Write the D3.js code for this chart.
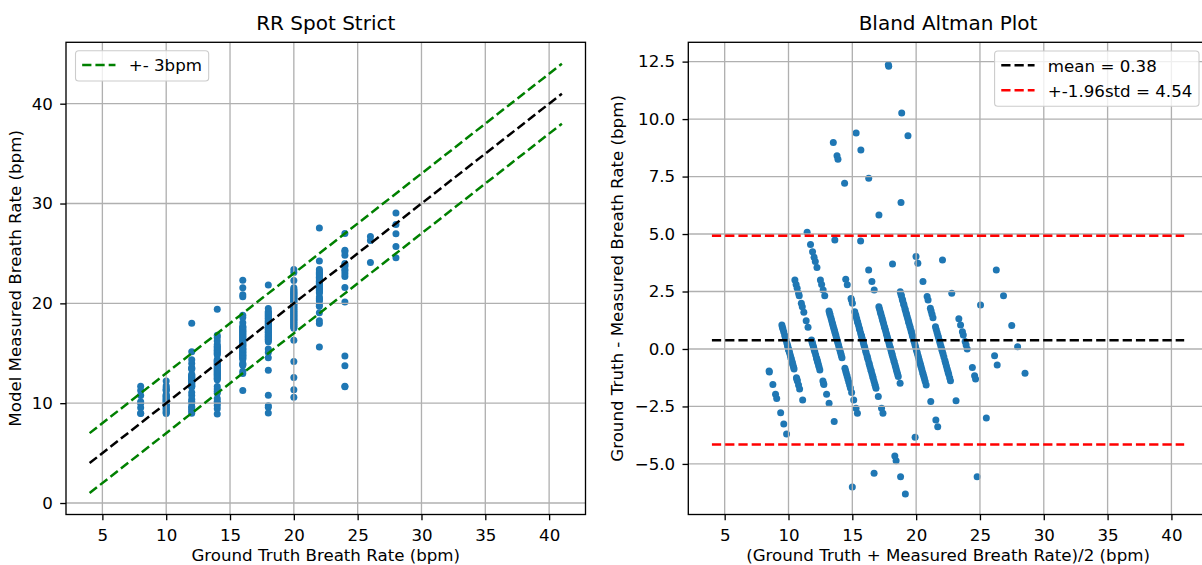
<!DOCTYPE html>
<html>
<head>
<meta charset="utf-8">
<script src="https://cdn.jsdelivr.net/npm/d3@7"></script>
<style>
  body { margin: 0; background: #fff; }
  svg { display: block; font-family: "DejaVu Sans", sans-serif; }
</style>
</head>
<body>
<svg id="chart" width="1202" height="565"></svg>
<script>
// ground truth rates (bpm) and what the model measured for each of them
const truthRates = [8, 10, 12, 14, 16, 18, 20, 22, 24, 26, 28];
const measuredRates = [
  [8.96, 9.0, 9.55, 9.97, 10.15, 10.77, 11.26, 11.7],
  [8.96, 9.05, 9.13, 9.25, 9.39, 9.5, 9.61, 9.75, 9.85, 9.9, 10.0, 10.04, 10.1, 10.19, 10.3, 10.38, 10.45,
   10.55, 10.62, 10.7, 10.8, 10.87, 11.25, 11.32, 11.39, 11.57, 11.74, 12.22],
  [9.0, 9.19, 9.36, 9.58, 9.68, 10.01, 10.16, 10.4, 10.77, 11.06, 11.61, 11.7, 11.75, 11.85, 11.94, 12.03,
   12.12, 12.25, 12.38, 12.45, 12.52, 12.6, 12.7, 12.8, 12.91, 13.39, 13.5, 13.54, 13.97, 14.36, 15.16, 18.0],
  [8.92, 9.45, 9.77, 10.01, 10.2, 10.46, 11.0, 11.19, 11.43, 11.68, 12.35, 12.45, 12.52, 12.64, 12.74, 12.85,
   12.93, 13.03, 13.13, 13.22, 13.32, 13.43, 13.54, 13.64, 13.75, 13.86, 13.97, 14.08, 14.19, 14.28, 14.38,
   14.84, 14.95, 15.06, 15.18, 15.31, 15.44, 15.57, 15.7, 15.89, 16.22, 16.58, 16.8, 19.41],
  [11.26, 12.97, 13.21, 13.8, 13.87, 14.01, 14.38, 14.5, 14.57, 14.69, 14.8, 14.86, 14.97, 15.1, 15.16, 15.29,
   15.4, 15.45, 15.56, 15.7, 15.78, 15.88, 15.95, 16.07, 16.16, 16.3, 16.37, 16.46, 16.6, 16.67, 16.78, 16.9,
   16.97, 17.1, 17.2, 17.27, 17.4, 17.52, 17.6, 17.71, 18.07, 18.58, 18.8, 20.66, 20.86, 21.56, 22.31],
  [9.02, 9.6, 9.75, 10.79, 13.3, 14.56, 15.07, 15.43, 16.16, 16.27, 16.4, 16.48, 16.6, 16.7, 16.79, 16.9,
   17.02, 17.1, 17.2, 17.32, 17.4, 17.5, 17.59, 17.7, 17.8, 17.9, 17.98, 18.1, 18.2, 18.27, 18.38, 18.5,
   18.58, 18.7, 18.8, 18.9, 19.0, 19.1, 19.2, 19.49, 21.84],
  [10.6, 11.34, 12.57, 14.17, 16.3, 17.51, 17.63, 17.7, 17.84, 17.9, 18.03, 18.1, 18.24, 18.3, 18.42, 18.5,
   18.6, 18.71, 18.8, 18.88, 19.0, 19.08, 19.2, 19.27, 19.4, 19.47, 19.6, 19.68, 19.8, 19.9, 20.02, 20.1,
   20.2, 20.31, 20.4, 20.5, 20.61, 20.7, 20.8, 20.9, 21.02, 21.1, 21.2, 21.3, 21.42, 21.57, 22.29, 23.09, 23.38],
  [15.63, 17.98, 18.27, 19.07, 19.72, 19.87, 20.23, 20.35, 20.49, 20.64, 21.03, 21.15, 21.28, 21.4, 21.5,
   21.62, 21.75, 21.88, 22.0, 22.1, 22.22, 22.35, 22.5, 22.62, 22.75, 22.88, 23.0, 23.1, 23.25, 23.38,
   24.25, 27.56],
  [11.64, 11.7, 13.74, 14.72, 20.13, 21.58, 22.69, 22.96, 23.25, 23.39, 23.68, 23.83, 24.0, 24.81, 25.16,
   25.31, 27.0],
  [24.09, 26.29, 26.7],
  [24.56, 25.69, 26.98, 27.9, 29.06]
];

const xTicks = [5, 10, 15, 20, 25, 30, 35, 40];
const spotYTicks = [0, 10, 20, 30, 40];
const baYTicks = [-5, -2.5, 0, 2.5, 5, 7.5, 10, 12.5];
const lineRange = [4, 41];   // reference lines run over this x range
const tolerance = 3;         // +- 3bpm band
const meanDiff = 0.38;       // from the legend
const limitsHalf = 4.54;     // 1.96 * std, from the legend

const blue = "#1f77b4";
const fontPx = 16.67;
const lw = 2.5;
const dash = "9.25,4";

const svg = d3.select("#chart");

const readings = truthRates.flatMap((t, i) =>
  measuredRates[i].map(m => ({ truth: t, measured: m })));

function panel(box, xDomain, yDomain, yTicks, yFormat, id) {
  const x = d3.scaleLinear().domain(xDomain).range([box.left, box.right]);
  const y = d3.scaleLinear().domain(yDomain).range([box.bottom, box.top]);
  const g = svg.append("g");

  g.append("clipPath").attr("id", id).append("rect")
    .attr("x", box.left).attr("y", box.top)
    .attr("width", box.right - box.left).attr("height", box.bottom - box.top);

  const dots = g.append("g").attr("clip-path", `url(#${id})`);

  const grid = g.append("g").attr("stroke", "#b0b0b0").attr("stroke-width", 1.33);
  grid.selectAll(".gx").data(xTicks).join("line").attr("class", "gx")
    .attr("x1", d => x(d)).attr("x2", d => x(d))
    .attr("y1", box.top).attr("y2", box.bottom);
  grid.selectAll(".gy").data(yTicks).join("line").attr("class", "gy")
    .attr("x1", box.left).attr("x2", box.right)
    .attr("y1", d => y(d)).attr("y2", d => y(d));

  const lines = g.append("g").attr("clip-path", `url(#${id})`);

  const xAxis = g.append("g")
    .attr("transform", `translate(0,${box.bottom})`)
    .call(d3.axisBottom(x).tickValues(xTicks).tickSize(5.8).tickPadding(8.9).tickFormat(d3.format("d")));
  const yAxis = g.append("g")
    .attr("transform", `translate(${box.left},0)`)
    .call(d3.axisLeft(y).tickValues(yTicks).tickSize(5.8).tickPadding(7.3).tickFormat(yFormat));
  [xAxis, yAxis].forEach(a => {
    a.attr("font-size", fontPx).attr("font-family", "DejaVu Sans, sans-serif");
    a.select(".domain").remove();
    a.selectAll(".tick line").attr("stroke", "#000").attr("stroke-width", 1.33);
    a.selectAll(".tick text").attr("fill", "#000");
  });

  g.append("rect")
    .attr("x", box.left).attr("y", box.top)
    .attr("width", box.right - box.left).attr("height", box.bottom - box.top)
    .attr("fill", "none").attr("stroke", "#000").attr("stroke-width", 1.33);

  return { x, y, g, dots, lines };
}

function dashedLine(layer, pts, color) {
  layer.append("path")
    .attr("d", d3.line()(pts))
    .attr("fill", "none")
    .attr("stroke", color)
    .attr("stroke-width", lw)
    .attr("stroke-dasharray", dash);
}

function legend(g, anchorX, alignRight, top, entries) {
  const pad = 6.67, handle = 33.3, gap = 13.3, rowH = 25;
  const lg = g.append("g");
  const box = lg.append("rect");
  const texts = entries.map((e, i) => {
    const cy = top + 14.3 + i * rowH;
    lg.append("line")
      .attr("x1", 0).attr("x2", handle).attr("y1", cy).attr("y2", cy)
      .attr("class", "handle")
      .attr("stroke", e.color).attr("stroke-width", lw).attr("stroke-dasharray", dash);
    return lg.append("text")
      .attr("y", cy + 6.2)
      .attr("font-size", fontPx)
      .attr("fill", "#000")
      .text(e.label);
  });
  const textW = d3.max(texts, t => t.node().getComputedTextLength());
  const w = pad + handle + gap + textW + pad;
  const h = entries.length * rowH + 5.3;
  const left = alignRight ? anchorX - w : anchorX;
  box.attr("x", left).attr("y", top).attr("width", w).attr("height", h)
    .attr("rx", 3.3).attr("ry", 3.3)
    .attr("fill", "#fff").attr("fill-opacity", 0.8)
    .attr("stroke", "#cccccc").attr("stroke-width", 1.1);
  lg.selectAll(".handle").attr("transform", `translate(${left + pad},0)`);
  texts.forEach(t => t.attr("x", left + pad + handle + gap));
}

function texts(box, title, xLabel, yLabel, yLabelX) {
  const cx = (box.left + box.right) / 2;
  const cy = (box.top + box.bottom) / 2;
  svg.append("text").attr("x", cx).attr("y", 30).attr("text-anchor", "middle")
    .attr("font-size", 20).attr("fill", "#000").text(title);
  svg.append("text").attr("x", cx).attr("y", 560.5).attr("text-anchor", "middle")
    .attr("font-size", fontPx).attr("fill", "#000").text(xLabel);
  svg.append("text").attr("transform", `translate(${yLabelX},${cy}) rotate(-90)`)
    .attr("text-anchor", "middle")
    .attr("font-size", fontPx).attr("fill", "#000").text(yLabel);
}

// ---- left: RR Spot Strict ----
const spotBox = { left: 66, right: 585.5, top: 42.3, bottom: 514.5 };
const spot = panel(spotBox, [2.15, 42.85], [-1.15, 46.15], spotYTicks, d3.format("d"), "clipSpot");

spot.dots.selectAll("circle").data(readings).join("circle")
  .attr("cx", d => spot.x(d.truth))
  .attr("cy", d => spot.y(d.measured))
  .attr("r", 3.5)
  .attr("fill", blue);

dashedLine(spot.lines, lineRange.map(v => [spot.x(v), spot.y(v)]), "#000");
dashedLine(spot.lines, lineRange.map(v => [spot.x(v), spot.y(v + tolerance)]), "#008000");
dashedLine(spot.lines, lineRange.map(v => [spot.x(v), spot.y(v - tolerance)]), "#008000");

legend(spot.g, spotBox.left + 9.5, false, 50.7, [{ color: "#008000", label: "+- 3bpm" }]);
texts(spotBox, "RR Spot Strict", "Ground Truth Breath Rate (bpm)", "Model Measured Breath Rate (bpm)", 21);

// ---- right: Bland Altman ----
const baBox = { left: 688.3, right: 1207.8, top: 42.3, bottom: 514.5 };
const ba = panel(baBox, [2.15, 42.85], [-7.2, 13.34], baYTicks, d3.format(".1f"), "clipBa");

ba.dots.selectAll("circle").data(readings).join("circle")
  .attr("cx", d => ba.x((d.truth + d.measured) / 2))
  .attr("cy", d => ba.y(d.truth - d.measured))
  .attr("r", 3.5)
  .attr("fill", blue);

dashedLine(ba.lines, lineRange.map(v => [ba.x(v), ba.y(meanDiff)]), "#000");
dashedLine(ba.lines, lineRange.map(v => [ba.x(v), ba.y(meanDiff + limitsHalf)]), "#ff0000");
dashedLine(ba.lines, lineRange.map(v => [ba.x(v), ba.y(meanDiff - limitsHalf)]), "#ff0000");

legend(ba.g, 1199, true, 51, [
  { color: "#000", label: "mean = 0.38" },
  { color: "#ff0000", label: "+-1.96std = 4.54" }
]);
texts(baBox, "Bland Altman Plot", "(Ground Truth + Measured Breath Rate)/2 (bpm)",
  "Ground Truth - Measured Breath Rate (bpm)", 623);
</script>
</body>
</html>
